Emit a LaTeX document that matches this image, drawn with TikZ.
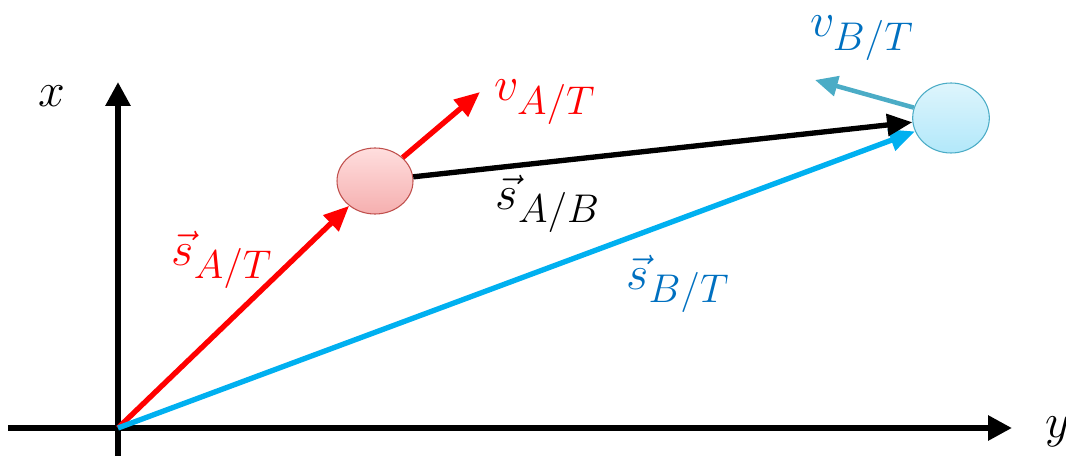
\documentclass[tikz,border=0pt]{standalone}
\usepackage{graphicx}
\usepackage{amsmath}
\usetikzlibrary{arrows.meta,shapes.geometric}
\definecolor{vecred}{RGB}{255,0,0}
\definecolor{veccyan}{RGB}{0,176,240}
\definecolor{lblblue}{RGB}{0,112,192}
\definecolor{velteal}{RGB}{75,172,198}
\definecolor{rimred}{RGB}{192,80,77}
\definecolor{pinktop}{RGB}{255,222,222}
\definecolor{pinkbot}{RGB}{245,175,175}
\definecolor{icetop}{RGB}{222,245,252}
\definecolor{icebot}{RGB}{178,232,250}
\newcommand{\biglbl}[1]{\scalebox{1.45}{\Huge #1}}

\begin{document}
\begin{tikzpicture}[
    x=0.75pt,
    y=-0.75pt,
    tip/.style={-{Triangle[length=19pt,width=16pt]}},
    axis/.style={line width=4.4pt, -{Triangle[length=18pt,width=18pt]}},
    vec/.style={line width=4pt, tip, draw=#1},
    lbl/.style={text=#1, inner sep=0pt},
    body/.style={ellipse, draw=#1, line width=0.8pt, inner sep=0pt},
  ]

  \useasboundingbox (0,0) rectangle (1066,456);

  % === Axes ===
  \coordinate (O) at (118,428);
  \coordinate (xbot) at (118,456);
  \coordinate (xtop) at (118,82);
  \coordinate (yleft) at (8,428);
  \coordinate (yright) at (1012,428);
  \draw[axis] (xbot) -- (xtop);
  \draw[axis] (yleft) -- (yright);
  \node[lbl=black] (xlbl) at (52,96) {\biglbl{$x$}};
  \node[lbl=black] (ylbl) at (1058,432) {\biglbl{$y$}};

  % === Bodies ===
  \node[body=rimred, top color=pinktop, bottom color=pinkbot,
        minimum width=57pt, minimum height=49.5pt] (A) at (375,181) {};
  \node[body=velteal, top color=icetop, bottom color=icebot,
        minimum width=57.5pt, minimum height=52.5pt] (B) at (951,118) {};

  % === Position vectors ===
  \draw[vec=vecred] (O) -- (A);
  \draw[vec=veccyan] (O) -- (B);
  \draw[vec=black] (A) -- (B);

  % === Velocities ===
  \coordinate (vA) at (480,92);
  \coordinate (vB) at (815,80);
  \draw[vec=vecred] (A) -- (vA);
  \draw[line width=3.4pt, draw=velteal, -{Triangle[length=17pt,width=15pt]}] (B) -- (vB);

  % === Labels ===
  \node[lbl=vecred] (vAlbl) at (545,102) {\biglbl{$v_{A/T}$}};
  \node[lbl=lblblue] (vBlbl) at (862,38) {\biglbl{$v_{B/T}$}};
  \node[lbl=vecred] (sATlbl) at (222,260) {\biglbl{$\vec{s}_{A/T}$}};
  \node[lbl=black] (sABlbl) at (548,204) {\biglbl{$\vec{s}_{A/B}$}};
  \node[lbl=lblblue] (sBTlbl) at (678,284) {\biglbl{$\vec{s}_{B/T}$}};

\end{tikzpicture}
\end{document}
